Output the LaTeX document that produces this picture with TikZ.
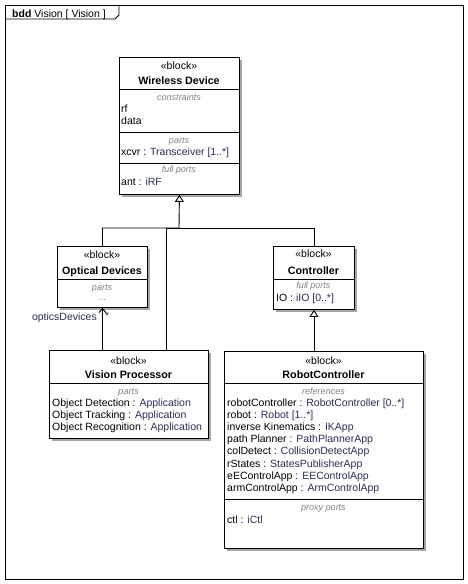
\documentclass[tikz,border=0pt]{standalone}
\usepackage{fontspec}
\setmainfont{Liberation Sans}
\usetikzlibrary{arrows.meta,shadows}
\definecolor{typeblue}{RGB}{40,45,85}
\definecolor{complabel}{RGB}{130,130,130}
\definecolor{shade}{RGB}{165,165,165}

\begin{document}
\begin{tikzpicture}[x=1pt,y=-1pt,
  blockbox/.style={draw=black, line width=0.9pt, fill=white, inner sep=0pt, anchor=north west,
    drop shadow={shadow xshift=3pt, shadow yshift=-3pt, fill=shade, opacity=1}},
  txt/.style={anchor=base west, inner sep=0pt, font=\fontsize{10.5}{12}\selectfont},
  ctr/.style={anchor=base, inner sep=0pt, font=\fontsize{10.5}{12}\selectfont},
  ttl/.style={ctr, font=\fontsize{10.7}{12}\selectfont\bfseries},
  clabel/.style={anchor=base, inner sep=0pt, text=complabel, font=\fontsize{9}{10}\selectfont\itshape},
  sep/.style={line width=0.9pt},
  wire/.style={line width=0.9pt},
  gen/.style={wire, -{Triangle[open, length=7pt, width=9pt, fill=white]}},
  nav/.style={wire, -{Straight Barb[length=4pt, width=7pt]}},
]
\useasboundingbox (0,0) rectangle (468,584);

% diagram frame and its name tab
\node[draw=black, line width=1pt, inner sep=0pt, anchor=north west,
      minimum width=458pt, minimum height=574pt] (frame) at (5,5) {};
\draw[line width=0.9pt] (5,19) -- (115,19) -- (119,15) -- (119,5);
\node[txt] (frametitle) at (12,17.5) {\textbf{bdd} Vision [ Vision ]};

% Wireless Device
\node[blockbox, minimum width=120pt, minimum height=137pt] (wd) at (119,57) {};
\node[ctr] (wdst) at (179,69) {«block»};
\node[ttl] (wdnm) at (179,84) {Wireless Device};
\draw[sep] (119,89) -- (239,89);
\node[clabel] (wdc1) at (179,100) {constraints};
\node[txt] (wdrf) at (121,112) {rf};
\node[txt] (wddata) at (121,124) {data};
\draw[sep] (119,132) -- (239,132);
\node[clabel] (wdc2) at (179,143) {parts};
\node[txt] (wdxcvr) at (121,155.5) {xcvr : \textcolor{typeblue}{Transceiver [1..*]}};
\draw[sep] (119,163) -- (239,163);
\node[clabel] (wdc3) at (179,172.5) {full ports};
\node[txt] (wdant) at (121,185) {ant : \textcolor{typeblue}{iRF}};

% Optical Devices
\node[blockbox, minimum width=90pt, minimum height=61pt] (opt) at (57,246) {};
\node[ctr] (optst) at (102,258) {«block»};
\node[ttl] (optnm) at (102,274) {Optical Devices};
\draw[sep] (57,279) -- (147,279);
\node[clabel] (optc1) at (102,290) {parts};
\node[clabel, font=\fontsize{9}{10}\selectfont] (optdots) at (102,300) {...};

% Controller
\node[blockbox, minimum width=81pt, minimum height=63pt] (ctl) at (273,246) {};
\node[ctr] (ctlst) at (313.5,257.5) {«block»};
\node[ttl] (ctlnm) at (313.5,274) {Controller};
\draw[sep] (273,279) -- (354,279);
\node[clabel] (ctlc1) at (313.5,288.5) {full ports};
\node[txt] (ctlio) at (276,301.5) {IO : \textcolor{typeblue}{iIO [0..*]}};

% Vision Processor
\node[blockbox, minimum width=159pt, minimum height=88pt] (vp) at (49,350) {};
\node[ctr] (vpst) at (128.5,364) {«block»};
\node[ttl] (vpnm) at (128.5,378.5) {Vision Processor};
\draw[sep] (49,383) -- (208,383);
\node[clabel] (vpc1) at (128.5,394) {parts};
\node[txt] (vpp1) at (52,406.5) {Object Detection : \textcolor{typeblue}{Application}};
\node[txt] (vpp2) at (52,418.5) {Object Tracking : \textcolor{typeblue}{Application}};
\node[txt] (vpp3) at (52,430.5) {Object Recognition : \textcolor{typeblue}{Application}};

% RobotController
\node[blockbox, minimum width=199pt, minimum height=197pt] (rc) at (224,351) {};
\node[ctr] (rcst) at (323.5,364) {«block»};
\node[ttl] (rcnm) at (323.5,378.5) {RobotController};
\draw[sep] (224,383) -- (423,383);
\node[clabel] (rcc1) at (323.5,394) {references};
\node[txt] (rcr1) at (227,406) {robotController : \textcolor{typeblue}{RobotController [0..*]}};
\node[txt] (rcr2) at (227,418) {robot : \textcolor{typeblue}{Robot [1..*]}};
\node[txt] (rcr3) at (227,430) {inverse Kinematics : \textcolor{typeblue}{IKApp}};
\node[txt] (rcr4) at (227,442) {path Planner : \textcolor{typeblue}{PathPlannerApp}};
\node[txt] (rcr5) at (227,454) {colDetect : \textcolor{typeblue}{CollisionDetectApp}};
\node[txt] (rcr6) at (227,467) {rStates : \textcolor{typeblue}{StatesPublisherApp}};
\node[txt] (rcr7) at (227,479) {eEControlApp : \textcolor{typeblue}{EEControlApp}};
\node[txt] (rcr8) at (227,491) {armControlApp : \textcolor{typeblue}{ArmControlApp}};
\draw[sep] (224,499) -- (423,499);
\node[clabel] (rcc2) at (323.5,510) {proxy ports};
\node[txt] (rcp1) at (227,523) {ctl : \textcolor{typeblue}{iCtl}};

% generalizations into Wireless Device through a shared junction
\coordinate (hub) at (179,228);
\draw[gen] (opt.north) |- (hub) -- (wd.south);
\draw[wire] ([xshift=37.5pt]vp.north) |- (hub);
\draw[wire] (ctl.north) |- (hub);

% RobotController specializes Controller
\draw[gen] (rc.north -| ctl.south) -- (ctl.south);

% directed association from Vision Processor to Optical Devices
\draw[nav] (vp.north -| opt.south) -- (opt.south);
\node[anchor=base east, inner sep=0pt, text=typeblue, font=\fontsize{10.5}{12}\selectfont] (rolename) at (97,320) {opticsDevices};
\node[anchor=base west, inner sep=0pt, text=typeblue, font=\fontsize{10.5}{12}\selectfont] (rolemult) at (105,319) {*};
\end{tikzpicture}
\end{document}
